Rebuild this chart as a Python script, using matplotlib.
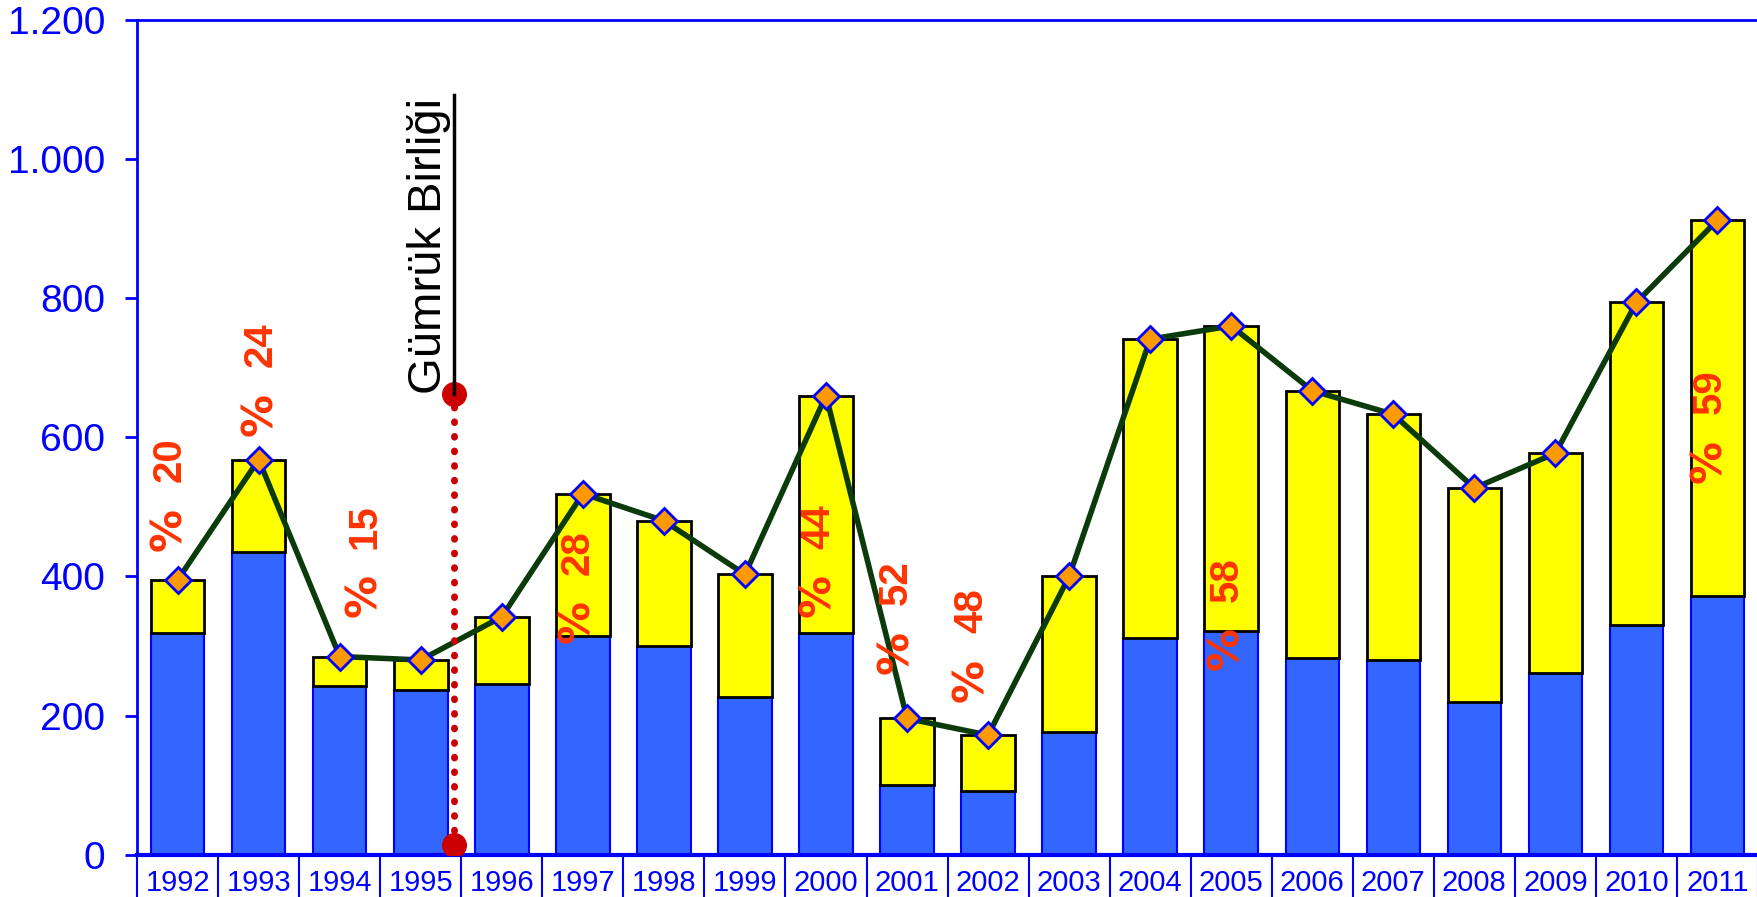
import matplotlib
matplotlib.use('Agg')
import matplotlib.pyplot as plt
import numpy as np

years = ['1992', '1993', '1994', '1995', '1996', '1997', '1998', '1999', '2000', '2001',
         '2002', '2003', '2004', '2005', '2006', '2007', '2008', '2009', '2010', '2011']
total = [395, 568, 285, 280, 342, 519, 480, 403, 660, 196,
         172, 400, 741, 760, 667, 633, 527, 577, 794, 912]
blue_part = [319, 435, 242, 237, 246, 314, 300, 227, 319, 100,
             92, 176, 311, 322, 283, 280, 219, 261, 330, 372]

# percent labels: number, x position (category index), y centre
pct_num = ['20', '24', '15', '28', '44', '52', '48', '58', '59']
pct_x = [-0.1, 1.02, 2.3, 4.93, 7.9, 8.86, 9.79, 12.94, 18.9]
pct_y = [520, 685, 424, 387, 424, 343, 303, 348, 617]

cu_x = 3.41
cu_top = 662
cu_label = 'Gümrük Birliği'

narrow = ['Liberation Sans Narrow', 'Liberation Sans', 'DejaVu Sans']
red = '#FF3300'

fig = plt.figure(figsize=(17.58, 8.97), dpi=100)
ax = fig.add_axes([0.078, 0.047, 0.922, 0.931])

x = np.arange(len(years))
yellow_part = [t - b for t, b in zip(total, blue_part)]
ax.bar(x, blue_part, width=0.66, color='#3366FF', edgecolor='#0000FF', linewidth=1.5, zorder=2)
ax.bar(x, yellow_part, bottom=blue_part, width=0.66, color='#FFFF00', edgecolor='black',
       linewidth=2, zorder=2)
ax.plot(x, total, color='#0B3B0B', linewidth=4, marker='D', markersize=13,
        markerfacecolor='#FF9900', markeredgecolor='#0000FF', markeredgewidth=2, zorder=4)

# "%" sign below the number (text rotated, reads bottom to top)
for n, px, py in zip(pct_num, pct_x, pct_y):
    ax.annotate('%', (px, py), xytext=(0, -26), textcoords='offset points',
                rotation=90, ha='center', va='center', color=red,
                fontsize=31, fontweight='bold', family='DejaVu Sans', zorder=5)
    ax.annotate(n, (px, py), xytext=(0, 24), textcoords='offset points',
                rotation=90, ha='center', va='center', color=red,
                fontsize=29, fontweight='bold', family=['Liberation Sans', 'DejaVu Sans'],
                zorder=5)

# customs union marker
ax.plot([cu_x, cu_x], [14, cu_top], color='#CC0000', linestyle=(0, (0.1, 2.0)),
        linewidth=5, dash_capstyle='round', zorder=5)
ax.plot([cu_x, cu_x], [14, cu_top], linestyle='none', marker='o', markersize=17,
        color='#CC0000', zorder=6)
ax.text(cu_x - 0.04, cu_top, cu_label, rotation=90, ha='right', va='bottom',
        fontsize=34, family=['Liberation Sans', 'DejaVu Sans'], color='black', zorder=6)
ax.plot([cu_x, cu_x], [cu_top, 1092], color='black', linewidth=2.5, zorder=6)

ax.set_xlim(-0.5, len(years) - 0.5)
ax.set_ylim(0, 1200)
ax.set_yticks(np.arange(0, 1201, 200))
ax.set_yticklabels(['{:,}'.format(v).replace(',', '.') for v in range(0, 1201, 200)],
                   family=narrow, fontsize=28, color='#0000FF')
ax.tick_params(axis='y', colors='#0000FF', length=9, width=2, pad=14, direction='out')

ax.set_xticks(np.arange(-0.5, len(years), 1.0))
ax.set_xticklabels([])
ax.tick_params(axis='x', which='major', colors='#0000FF', length=60, width=1.5, direction='out')
ax.set_xticks(x, minor=True)
ax.set_xticklabels(years, minor=True, family=narrow, fontsize=21, color='#0000FF')
ax.tick_params(axis='x', which='minor', length=0, pad=10)

for side in ['left', 'top', 'bottom', 'right']:
    ax.spines[side].set_color('#0000FF')
ax.spines['left'].set_linewidth(2)
ax.spines['top'].set_linewidth(2)
ax.spines['bottom'].set_linewidth(3)
ax.spines['right'].set_visible(False)

fig.savefig('out.png', dpi=100)
